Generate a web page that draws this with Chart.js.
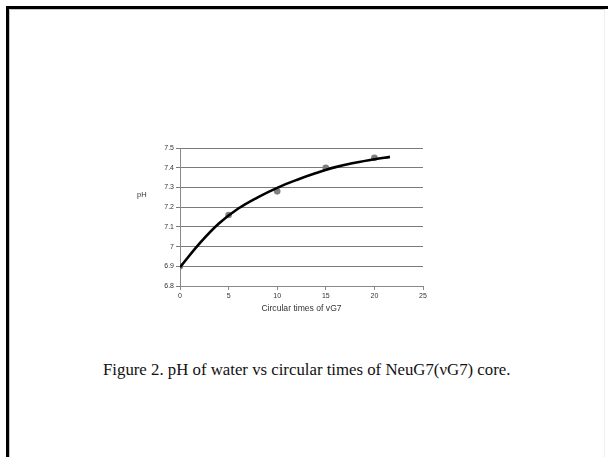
<!DOCTYPE html>
<html><head><meta charset="utf-8">
<script src="https://cdn.jsdelivr.net/npm/chart.js@4/dist/chart.umd.min.js"></script>
<style>
html,body{margin:0;padding:0;background:#fff;width:608px;height:457px;overflow:hidden;position:relative;}
#frame{position:absolute;left:6px;top:6px;width:602px;height:451px;border-left:3px solid #000;border-top:3px solid #000;box-sizing:border-box;}
#inner{position:absolute;left:9px;top:9px;width:596px;height:448px;border-left:1px solid #c8c8c8;border-top:1px solid #c8c8c8;border-right:1px solid #eee;box-sizing:border-box;}
#wrap{position:absolute;left:130px;top:140px;width:300px;height:185px;}
#ylab{position:absolute;left:137px;top:190px;font-family:"Liberation Sans",Arial,sans-serif;font-size:7.5px;color:#333;}
#cap{position:absolute;left:103px;top:362px;white-space:nowrap;line-height:1;font-family:"Liberation Serif","Times New Roman",serif;font-size:16.8px;color:#111;}
</style></head>
<body>
<div id="frame"></div><div id="inner"></div>
<div id="wrap"><canvas id="c" width="300" height="185"></canvas></div>
<div id="ylab">pH</div>
<div id="cap">Figure 2. pH of water vs circular times of NeuG7(νG7) core.</div>
<script>
const xValues = [0, 5, 10, 15, 20];
const phValues = [6.9, 7.16, 7.28, 7.40, 7.45];
const trendX = [0, 2, 4, 6, 8, 10, 12, 14, 16, 18, 20, 21.6];
const trendY = [6.895, 7.015, 7.117, 7.193, 7.25, 7.298, 7.338, 7.373, 7.403, 7.425, 7.443, 7.455];
const xTicks = [0, 5, 10, 15, 20, 25];
const yTicks = [6.8, 6.9, 7, 7.1, 7.2, 7.3, 7.4, 7.5];
const xTitle = "Circular times of vG7";

const tickFont = {family:"Liberation Sans, Arial, sans-serif", size:7};
new Chart(document.getElementById('c'), {
  type:'scatter',
  data:{datasets:[
    {data:trendX.map((x,i)=>({x:x,y:trendY[i]})), showLine:true, borderColor:'#000', borderWidth:2.6, pointRadius:0, tension:0.4, fill:false, order:0},
    {data:xValues.map((x,i)=>({x:x,y:phValues[i]})), pointRadius:3.3, pointBackgroundColor:'#7f7f7f', pointBorderColor:'#7f7f7f', pointBorderWidth:0, order:1}
  ]},
  options:{
    responsive:false, animation:false, devicePixelRatio:1,
    layout:{padding:{top:8,right:7,left:0,bottom:11}},
    plugins:{legend:{display:false},tooltip:{enabled:false}},
    scales:{
      x:{type:'linear',min:0,max:25,
        afterBuildTicks:(a)=>{a.ticks=xTicks.map(v=>({value:v}));},
        afterFit:(a)=>{a.height=28;},
        grid:{drawOnChartArea:false,drawTicks:true,tickLength:4,color:'#888'},
        border:{color:'#888',width:1},
        ticks:{font:tickFont,color:'#333',padding:2,maxRotation:0},
        title:{display:true,text:xTitle,font:{family:"Liberation Sans, Arial, sans-serif",size:8.6},color:'#333',padding:{top:2,bottom:0}}
      },
      y:{type:'linear',min:6.8,max:7.5,
        afterBuildTicks:(a)=>{a.ticks=yTicks.map(v=>({value:v}));},
        afterFit:(a)=>{a.width=50;},
        grid:{drawTicks:true,tickLength:4,color:'#7a7a7a',lineWidth:1},
        border:{color:'#888',width:1},
        ticks:{font:tickFont,color:'#333',padding:2,callback:(v)=>String(v)}
      }
    }
  }
});
</script>
</body></html>
